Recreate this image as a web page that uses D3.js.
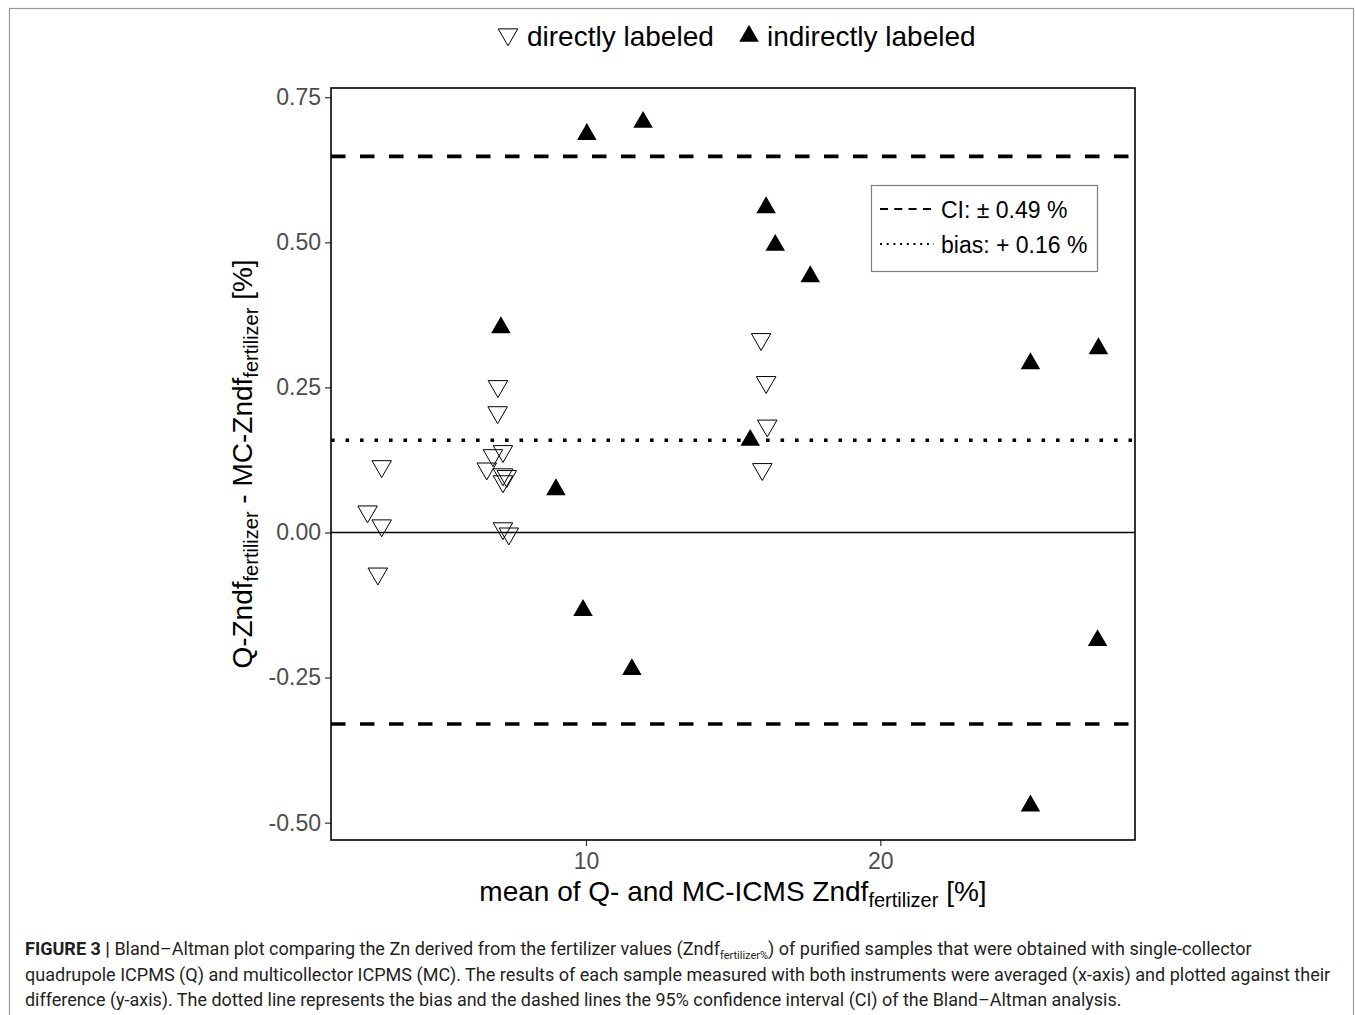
<!DOCTYPE html>
<html>
<head>
<meta charset="utf-8">
<script src="https://cdn.jsdelivr.net/npm/d3@7"></script>
<style>
  body { margin: 0; background: #fff; }
  svg { display: block; }
</style>
</head>
<body>
<div id="chart"></div>
<script>
// values
const directX = [7.01, 7.00, 7.18, 6.84, 6.63, 7.18, 7.31, 7.18, 3.06, 2.58, 3.06, 2.93, 7.18, 7.38, 15.95, 16.12, 16.16, 15.99];
const directY = [0.252, 0.207, 0.140, 0.133, 0.110, 0.100, 0.097, 0.088, 0.114, 0.036, 0.012, -0.071, 0.007, -0.002, 0.333, 0.259, 0.184, 0.109];
const indirectX = [10.03, 11.94, 16.12, 16.43, 17.62, 7.11, 25.10, 27.41, 15.58, 8.98, 9.90, 11.56, 27.38, 25.10];
const indirectY = [0.686, 0.707, 0.560, 0.495, 0.441, 0.353, 0.291, 0.317, 0.159, 0.074, -0.134, -0.236, -0.186, -0.471];
const bias = 0.159;
const ciHalf = 0.489;
const xTicks = [10, 20];
const yTicks = [-0.50, -0.25, 0.00, 0.25, 0.50, 0.75];
const legendLabels = ["directly labeled", "indirectly labeled"];
const lineLegend = ["CI: \u00b1 0.49 %", "bias: + 0.16 %"];

const W = 1355, H = 1015;
const panel = {left: 331, right: 1135, top: 88, bottom: 840};
const font = "'Liberation Sans', Arial, sans-serif";

const svg = d3.select("#chart").append("svg")
    .attr("width", W).attr("height", H)
    .style("font-family", font);

// outer figure frame
svg.append("rect")
    .attr("x", 9.5).attr("y", 8.5)
    .attr("width", 1344).attr("height", 1030)
    .attr("fill", "none").attr("stroke", "#9a9a9a").attr("stroke-width", 1.2);

// ggplot style 5% expansion
const allX = directX.concat(indirectX), allY = directY.concat(indirectY);
const [x0, x1] = d3.extent(allX), [y0, y1] = d3.extent(allY);
const ex = (x1 - x0) * 0.05, ey = (y1 - y0) * 0.05;

const x = d3.scaleLinear().domain([x0 - ex, x1 + ex]).range([panel.left, panel.right]);
const y = d3.scaleLinear().domain([y0 - ey, y1 + ey]).range([panel.bottom, panel.top]);

// axes
const xAxis = svg.append("g")
    .attr("transform", `translate(0,${panel.bottom})`)
    .call(d3.axisBottom(x).tickValues(xTicks).tickSize(6).tickPadding(7).tickFormat(d3.format("d")));
const yAxis = svg.append("g")
    .attr("transform", `translate(${panel.left},0)`)
    .call(d3.axisLeft(y).tickValues(yTicks).tickSize(6).tickPadding(4).tickFormat(d3.format(".2f")));
[xAxis, yAxis].forEach(g => {
  g.select(".domain").remove();
  g.selectAll(".tick line").attr("stroke", "#333").attr("stroke-width", 1.2);
  g.selectAll(".tick text").attr("fill", "#4d4d4d").style("font-size", "23px").style("font-family", font);
});
yAxis.selectAll(".tick text").text(d => d3.format(".2f")(d).replace("\u2212", "-"));

// reference lines
const refLines = [
  {v: 0, dash: null, w: 1.6},
  {v: bias, dash: "3.6 10.9", w: 3.6},
  {v: bias + ciHalf, dash: "14.5 14.5", w: 3.6},
  {v: bias - ciHalf, dash: "14.5 14.5", w: 3.6}
];
svg.append("g").selectAll("line").data(refLines).join("line")
    .attr("x1", panel.left).attr("x2", panel.right)
    .attr("y1", d => y(d.v)).attr("y2", d => y(d.v))
    .attr("stroke", "#000").attr("stroke-width", d => d.w)
    .attr("stroke-dasharray", d => d.dash);

// points
const tri = d3.symbol().type(d3.symbolTriangle).size(165);
svg.append("g").selectAll("path").data(directX.map((v, i) => [v, directY[i]])).join("path")
    .attr("d", tri)
    .attr("transform", d => `translate(${x(d[0])},${y(d[1])}) rotate(180)`)
    .attr("fill", "none").attr("stroke", "#000").attr("stroke-width", 1);
svg.append("g").selectAll("path").data(indirectX.map((v, i) => [v, indirectY[i]])).join("path")
    .attr("d", tri)
    .attr("transform", d => `translate(${x(d[0])},${y(d[1])})`)
    .attr("fill", "#000");

// panel border
svg.append("rect")
    .attr("x", panel.left).attr("y", panel.top)
    .attr("width", panel.right - panel.left).attr("height", panel.bottom - panel.top)
    .attr("fill", "none").attr("stroke", "#000").attr("stroke-width", 1.6);

// top legend
const topLeg = svg.append("g");
topLeg.append("path").attr("d", tri).attr("transform", "translate(508,34.5) rotate(180)")
    .attr("fill", "none").attr("stroke", "#000").attr("stroke-width", 1);
topLeg.append("text").attr("x", 527).attr("y", 46).style("font-size", "28px").text(legendLabels[0]);
topLeg.append("path").attr("d", tri).attr("transform", "translate(749,36)").attr("fill", "#000");
topLeg.append("text").attr("x", 767).attr("y", 46).style("font-size", "28px").text(legendLabels[1]);

// inner legend box
const box = svg.append("g");
box.append("rect").attr("x", 871.5).attr("y", 185.5).attr("width", 226).attr("height", 86)
    .attr("fill", "#fff").attr("stroke", "#7f7f7f").attr("stroke-width", 1.2);
const keys = [{dash: "8 6.3", yy: 209}, {dash: "2 4.7", yy: 244}];
keys.forEach((k, i) => {
  box.append("line").attr("x1", 880).attr("x2", 934).attr("y1", k.yy).attr("y2", k.yy)
      .attr("stroke", "#000").attr("stroke-width", 2).attr("stroke-dasharray", k.dash);
  box.append("text").attr("x", 941).attr("y", k.yy + 9).style("font-size", "23px").text(lineLegend[i]);
});

// axis titles
const xt = svg.append("text")
    .attr("x", (panel.left + panel.right) / 2).attr("y", 901)
    .attr("text-anchor", "middle").style("font-size", "28px");
xt.append("tspan").text("mean of Q- and MC-ICMS Zndf");
xt.append("tspan").attr("dy", 6).style("font-size", "20px").text("fertilizer");
xt.append("tspan").attr("dy", -6).text(" [%]");

const yt = svg.append("text")
    .attr("transform", `translate(252,${(panel.top + panel.bottom) / 2}) rotate(-90)`)
    .attr("text-anchor", "middle").style("font-size", "28px");
yt.append("tspan").text("Q-Zndf");
yt.append("tspan").attr("dy", 6).style("font-size", "20px").text("fertilizer");
yt.append("tspan").attr("dy", -6).text(" - MC-Zndf");
yt.append("tspan").attr("dy", 6).style("font-size", "20px").text("fertilizer");
yt.append("tspan").attr("dy", -6).text(" [%]");

// caption, each line squeezed to the width it has in the figure
const capFont = "'Liberation Sans Narrow', 'Roboto', sans-serif";
const cap = svg.append("g").style("font-family", capFont).style("font-size", "19px").attr("fill", "#231f20");
const l1 = cap.append("text").attr("x", 25).attr("y", 955);
l1.append("tspan").style("font-weight", "bold").text("FIGURE 3 | ");
l1.append("tspan").text("Bland\u2013Altman plot comparing the Zn derived from the fertilizer values (Zndf");
l1.append("tspan").attr("dy", 4).style("font-size", "11px").text("fertilizer%");
l1.append("tspan").attr("dy", -4).text(") of purified samples that were obtained with single-collector");
const l2 = cap.append("text").attr("x", 25).attr("y", 981)
    .text("quadrupole ICPMS (Q) and multicollector ICPMS (MC). The results of each sample measured with both instruments were averaged (x-axis) and plotted against their");
const l3 = cap.append("text").attr("x", 25).attr("y", 1006)
    .text("difference (y-axis). The dotted line represents the bias and the dashed lines the 95% confidence interval (CI) of the Bland\u2013Altman analysis.");
[[l1, 1225], [l2, 1306], [l3, 1098]].forEach(([t, w]) => {
  const len = t.node().getComputedTextLength();
  if (len > 0) t.style("font-size", (19 * w / len).toFixed(2) + "px");
});
</script>
</body>
</html>
